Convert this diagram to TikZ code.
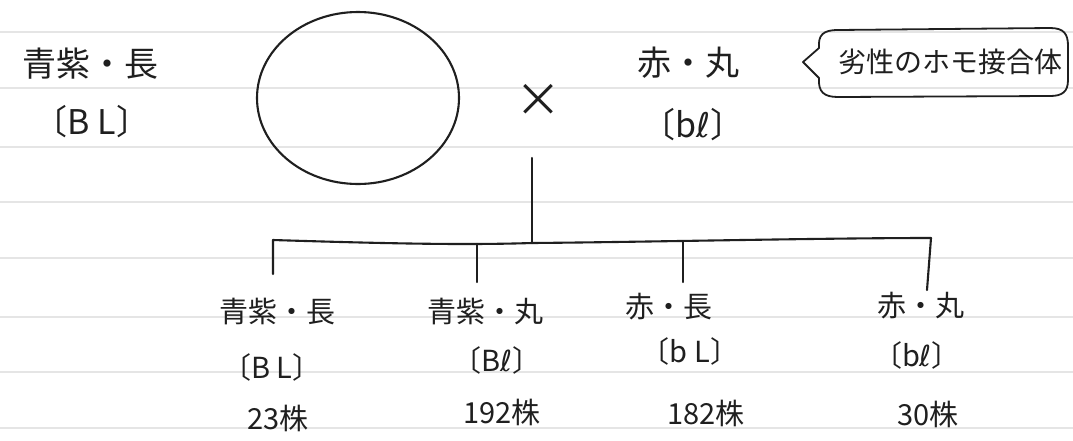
\documentclass[tikz,border=0pt]{standalone}
\usepackage{fontspec}
\usetikzlibrary{shapes.geometric}
\newfontfamily\jp{Noto Sans CJK JP}
\newfontfamily\dv{DejaVu Sans}
\newcommand{\lsym}{{\dv ℓ}}
\begin{document}
\begin{tikzpicture}[x=1pt,y=-1pt,
  ink/.style={draw=black!88, line width=2.1pt, line cap=round, line join=round},
  big/.style={font=\jp\fontsize{34}{34}\selectfont, inner sep=0pt, text=black!88},
  mid/.style={font=\jp\fontsize{29}{29}\selectfont, inner sep=0pt, text=black!88},
  notetext/.style={font=\jp\fontsize{28}{28}\selectfont, inner sep=0pt, text=black!88},
  paperline/.style={draw=black!10, line width=1.4pt}]
\fill[white] (0,0) rectangle (1073,440);
\useasboundingbox (0,0) rectangle (1073,440);
\foreach \yy in {32,88,147,202,258,317,372,428} \draw[paperline] (0,\yy) -- (1073,\yy);

% parents
\node[big] (p1lab) at (90,64) {青紫・長};
\node[big] (p1gen) at (92,122) {〔B L〕};
\node[ink, ellipse, minimum width=202pt, minimum height=172pt] (p1) at (358,98) {};
\node[font=\jp\fontsize{46}{46}\selectfont, inner sep=0pt, text=black!88] (cross) at (538,100) {×};
\node[big] (p2lab) at (688,63) {赤・丸};
\node[big] (p2gen) at (693,125) {〔b\lsym〕};

% note callout
\node[notetext] (note) at (950,62) {劣性のホモ接合体};
\draw[ink, line width=1.8pt] (803,62) -- (819,48) .. controls (818,35) and (823,30) .. (838,30)
  -- (1050,28) .. controls (1064,28) and (1068,34) .. (1068,46) -- (1068,80)
  .. controls (1068,92) and (1062,96) .. (1050,96) -- (838,97)
  .. controls (824,97) and (818,92) .. (819,78) -- cycle;

% tree
\coordinate (stem) at (532,158);
\coordinate (junc) at (532,243);
\coordinate (b1) at (273,240);
\coordinate (b2) at (477,244);
\coordinate (b3) at (683,242);
\coordinate (b4) at (931,238);
\coordinate (d1) at (273,274);
\coordinate (d2) at (477,282);
\coordinate (d3) at (683,282);
\coordinate (d4) at (927,290);
\draw[ink] (stem) -- (junc);
\draw[ink] (d1) -- (b1) .. controls (400,244) and (470,245) .. (junc)
  .. controls (650,242) and (820,238) .. (b4) -- (d4);
\draw[ink] (b2) -- (d2);
\draw[ink] (b3) -- (d3);

% children
\node[mid] (c1lab) at (277,312) {青紫・長};
\node[mid] (c1gen) at (272,367) {〔B L〕};
\node[mid] (c1n) at (278,418) {23株};
\node[mid] (c2lab) at (485,312) {青紫・丸};
\node[mid] (c2gen) at (497,360) {〔B\lsym〕};
\node[mid] (c2n) at (502,412) {192株};
\node[mid] (c3lab) at (669,307) {赤・長};
\node[mid] (c3gen) at (690,351) {〔b L〕};
\node[mid] (c3n) at (706,413) {182株};
\node[mid] (c4lab) at (921,306) {赤・丸};
\node[mid] (c4gen) at (917,355) {〔b\lsym〕};
\node[mid] (c4n) at (928,414) {30株};
\end{tikzpicture}
\end{document}
